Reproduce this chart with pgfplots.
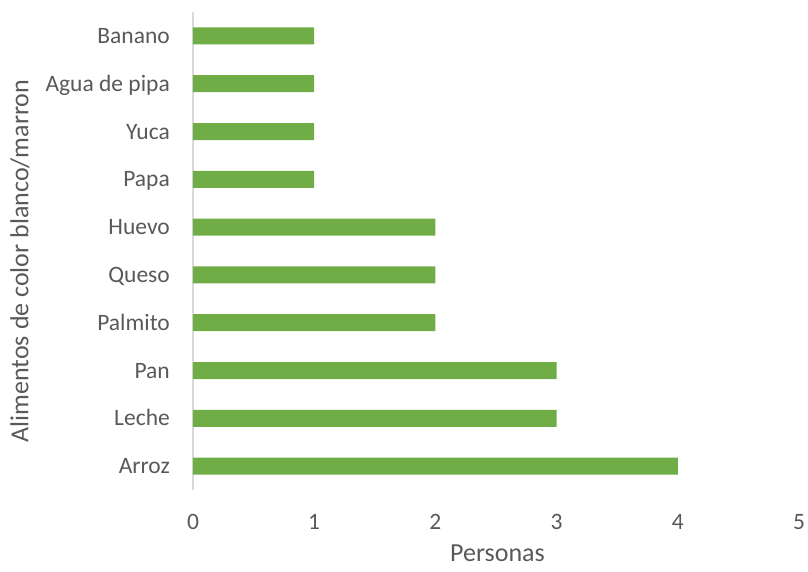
\documentclass[border=0pt]{standalone}
\usepackage{pgfplots}
\pgfplotsset{compat=1.18}
\usepackage{fontspec}
\setmainfont{Carlito}
\definecolor{bargreen}{HTML}{70AD47}
\definecolor{txtgray}{HTML}{595959}
\definecolor{axgray}{HTML}{D9D9D9}
\begin{document}
\begin{tikzpicture}
\useasboundingbox (-193pt,-81pt) rectangle (615pt,490pt);
\begin{axis}[
    at={(0,0)}, anchor=south west,
    scale only axis,
    width=606pt, height=478pt,
    xbar, bar width=17pt,
    xmin=0, xmax=5,
    ymin=-0.5, ymax=9.5,
    xtick={0,1,2,3,4,5},
    ytick={0,...,9},
    yticklabels={Arroz,Leche,Pan,Palmito,Queso,Huevo,Papa,Yuca,Agua de pipa,Banano},
    axis y line*=left, axis x line*=bottom,
    x axis line style={draw=none},
    y axis line style={draw=axgray, line width=1.2pt},
    major tick length=0pt,
    tick label style={font=\fontsize{23.5}{28}\selectfont, text=txtgray},
    xticklabel style={anchor=center, yshift=-32pt},
    yticklabel style={anchor=base east, inner sep=0pt, xshift=-23pt, yshift=-7.5pt},
    /pgf/number format/assume math mode=true,
    xlabel={Personas},
    ylabel={Alimentos de color blanco/marron},
    label style={font=\fontsize{26}{30}\selectfont, text=txtgray, inner sep=0pt},
    xlabel style={at={(axis description cs:0.5025,-0.1318)}, anchor=center},
    ylabel style={at={(axis description cs:-0.2855,0.479)}, anchor=center},
]
\addplot[fill=bargreen, draw=none] coordinates {
    (4,0) (3,1) (3,2) (2,3) (2,4) (2,5) (1,6) (1,7) (1,8) (1,9)
};
\end{axis}
\end{tikzpicture}
\end{document}
